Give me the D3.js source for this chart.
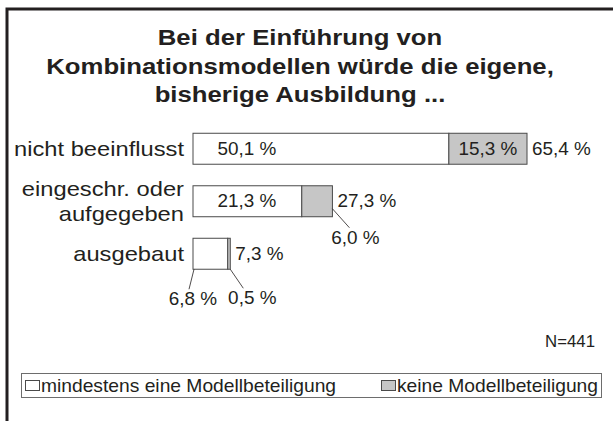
<!DOCTYPE html>
<html><head><meta charset="utf-8">
<script src="https://cdn.jsdelivr.net/npm/d3@7"></script>
<style>
html,body{margin:0;padding:0;background:#fff;}
svg{display:block;font-family:"Liberation Sans",Arial,sans-serif;}
</style></head><body>
<svg id="c" width="613" height="421"></svg>
<script>
const titleLines = ["Bei der Einführung von", "Kombinationsmodellen würde die eigene,", "bisherige Ausbildung ..."];
const categories = ["nicht beeinflusst", "eingeschr. oder aufgegeben", "ausgebaut"];
const categoryLines = [["nicht beeinflusst"], ["eingeschr. oder", "aufgegeben"], ["ausgebaut"]];
const withModel = [50.1, 21.3, 6.8];
const withoutModel = [15.3, 6.0, 0.5];
const totals = [65.4, 27.3, 7.3];
const seriesNames = ["mindestens eine Modellbeteiligung", "keine Modellbeteiligung"];
const nText = "N=441";
const fmt = v => d3.format(".1f")(v).replace(".", ",") + " %";

const svg = d3.select("#c");
const ink = "#231f20";
const grayFill = "#c6c6c6";
const barStroke = "#4a4a4a";

// text helper with slight horizontal stretch (reference glyphs are wider)
function label(px, py, txt, opt) {
  const o = Object.assign({size: 17.5, sx: 1.08, anchor: "start", weight: "normal"}, opt || {});
  return svg.append("text")
    .attr("transform", `translate(${px},${py}) scale(${o.sx},1)`)
    .attr("text-anchor", o.anchor).attr("font-size", o.size).attr("font-weight", o.weight)
    .attr("fill", ink).text(txt);
}

// frame
svg.append("rect").attr("x", 7).attr("y", 9).attr("width", 640).attr("height", 440)
  .attr("fill", "none").attr("stroke", ink).attr("stroke-width", 3);

// title
titleLines.forEach((t, i) => label(300, 45 + i * 28.5, t, {size: 22, sx: 1.17, anchor: "middle", weight: "bold"}));

const x = d3.scaleLinear().domain([0, 70]).range([193, 550.5]);
const y = d3.scaleBand().domain(categories).range([122.5, 280]).paddingInner(0.41).paddingOuter(0.205);
const bw = y.bandwidth();

const rows = categories.map((c, i) => ({c, i, a: withModel[i], b: withoutModel[i], t: totals[i]}));

// category labels
rows.forEach(r => {
  const lines = categoryLines[r.i];
  const cy = y(r.c) + bw / 2;
  const lh = 25;
  lines.forEach((ln, k) => {
    label(184, cy + (k - (lines.length - 1) / 2) * lh + 7.5, ln, {size: 21, sx: 1.13, anchor: "end"});
  });
});

// bars
const g = svg.append("g");
g.selectAll("rect.a").data(rows).join("rect").attr("class", "a")
  .attr("x", d => x(0)).attr("y", d => y(d.c)).attr("width", d => x(d.a) - x(0)).attr("height", bw)
  .attr("fill", "#fff").attr("stroke", barStroke).attr("stroke-width", 1);
g.selectAll("rect.b").data(rows).join("rect").attr("class", "b")
  .attr("x", d => x(d.a)).attr("y", d => y(d.c)).attr("width", d => x(d.a + d.b) - x(d.a)).attr("height", bw)
  .attr("fill", grayFill).attr("stroke", barStroke).attr("stroke-width", 1);

// white segment labels
rows.forEach(r => {
  const cy = y(r.c) + bw / 2 + 6;
  if (r.i < 2) {
    label(x(0) + 54, cy, fmt(r.a), {anchor: "middle"});
  } else {
    const x0 = x(0) + 1, yb = y(r.c) + bw;
    svg.append("line").attr("x1", x0).attr("y1", yb).attr("x2", x0 - 5).attr("y2", yb + 20)
      .attr("stroke", ink).attr("stroke-width", 0.8);
    label(x0 - 1, yb + 36, fmt(r.a), {anchor: "middle"});
  }
});
// gray segment labels
rows.forEach(r => {
  const cy = y(r.c) + bw / 2 + 6;
  if (r.i === 0) {
    label((x(r.a) + x(r.t)) / 2, cy, fmt(r.b), {anchor: "middle"});
  } else {
    const x0 = x(r.a + r.b), yb = y(r.c) + bw - (r.i === 1 ? 8 : 0);
    const dx = r.i === 1 ? 17 : 13;
    const dy = 19;
    svg.append("line").attr("x1", x0).attr("y1", yb).attr("x2", x0 + dx).attr("y2", yb + dy)
      .attr("stroke", ink).attr("stroke-width", 0.8);
    label(x0 + (r.i === 1 ? 23 : 22), yb + dy + 16, fmt(r.b), {anchor: "middle"});
  }
});
// totals
rows.forEach(r => label(x(r.t) + 5, y(r.c) + bw / 2 + 6, fmt(r.t)));

// N
label(595, 347, nText, {size: 16, sx: 1.05, anchor: "end"});

// legend
svg.append("rect").attr("x", 21.5).attr("y", 373.5).attr("width", 580).attr("height", 24)
  .attr("fill", "#fff").attr("stroke", "#6d6d6d").attr("stroke-width", 1);
const legX = [25, 381];
const legFill = ["#fff", grayFill];
seriesNames.forEach((s, i) => {
  svg.append("rect").attr("x", legX[i] + 0.5).attr("y", 380.5).attr("width", 14).attr("height", 10)
    .attr("fill", legFill[i]).attr("stroke", barStroke).attr("stroke-width", 1);
  label(legX[i] + 16, 392, s, {size: 17.5, sx: 1.1});
});
</script></body></html>
